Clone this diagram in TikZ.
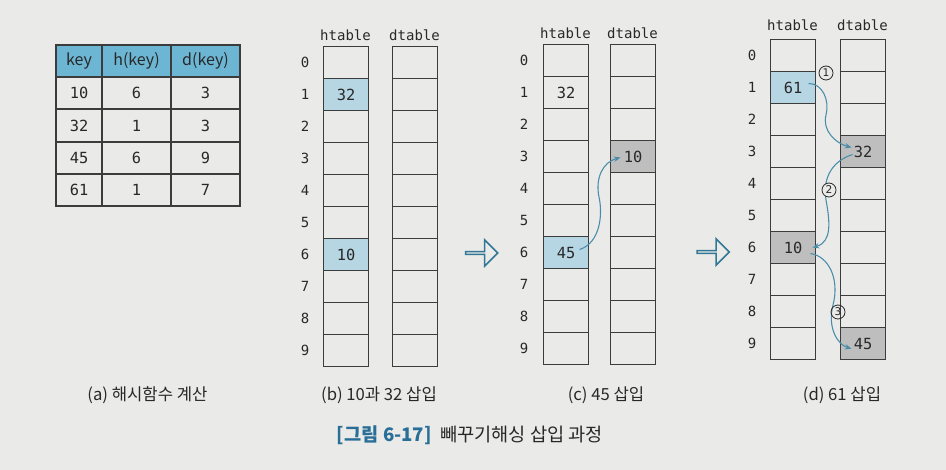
\documentclass[tikz,border=0pt]{standalone}
\usepackage{fontspec}
\setmainfont{Noto Sans CJK KR}
\newfontfamily\monof{DejaVu Sans Mono}
\newfontfamily\symf{DejaVu Sans}
\usetikzlibrary{arrows.meta,shapes.arrows,calc}
\definecolor{bgc}{RGB}{234,234,232}
\definecolor{linec}{RGB}{60,60,60}
\definecolor{hdr}{RGB}{108,182,212}
\definecolor{cb}{RGB}{182,214,228}
\definecolor{cg}{RGB}{190,190,190}
\definecolor{arrc}{RGB}{72,140,170}
\definecolor{blockc}{RGB}{50,120,150}
\definecolor{txt}{RGB}{40,40,40}
\definecolor{titc}{RGB}{40,110,150}
\tikzset{
  tcell/.style={draw=linec, line width=0.8pt, minimum height=24pt, inner sep=0pt,
    text=txt, font=\monof\fontsize{11.5}{13}\selectfont},
  hcell/.style={tcell, fill=hdr, font=\fontsize{12}{13}\selectfont},
  cell/.style={draw=linec, line width=0.8pt, minimum width=33.75pt, minimum height=24pt,
    inner sep=0pt, anchor=north west, text=txt, font=\monof\fontsize{11.5}{13}\selectfont},
  idx/.style={text=txt, font=\monof\fontsize{10.5}{12}\selectfont},
  thead/.style={text=txt, font=\monof\fontsize{10.5}{12}\selectfont},
  conn/.style={draw=arrc, line width=0.8pt, -{Stealth[length=5pt,width=4pt]}},
  circ/.style={circle, draw=txt, line width=0.6pt, minimum size=10.5pt, inner sep=0pt,
    text=txt, font=\symf\fontsize{8}{9}\selectfont},
  blockarrow/.style={single arrow, draw=blockc, line width=1.2pt, minimum height=24pt,
    minimum width=19.5pt, single arrow head extend=5.25pt, inner sep=0pt},
  capt/.style={text=txt, font=\fontsize{12.5}{14}\selectfont},
}
\begin{document}
\begin{tikzpicture}[x=0.75pt,y=-0.75pt]
\fill[bgc] (0,0) rectangle (946,470);
\useasboundingbox (0,0) rectangle (946,470);

% (a) table
\node[hcell, minimum width=34.5pt] (a0c0) at (79,61) {key};
\node[hcell, minimum width=51.75pt] (a0c1) at (136.5,61) {h(key)};
\node[hcell, minimum width=51.75pt] (a0c2) at (205.5,61) {d(key)};
\foreach \r/\y/\ka/\kb/\kc in {1/93/10/6/3,2/125.5/32/1/3,3/158/45/6/9,4/190/61/1/7}{
  \node[tcell, minimum width=34.5pt] (a\r c0) at (79,\y) {\ka};
  \node[tcell, minimum width=51.75pt] (a\r c1) at (136.5,\y) {\kb};
  \node[tcell, minimum width=51.75pt] (a\r c2) at (205.5,\y) {\kc};
}

% (b)
\node[thead] (bhl) at (345.5,35) {htable};
\node[thead] (bdl) at (414.5,35) {dtable};
\foreach \i/\f/\t in {0/none/,1/cb/32,2/none/,3/none/,4/none/,5/none/,6/cb/10,7/none/,8/none/,9/none/}{
  \node[cell, fill=\f] (bh\i) at (323,{46+32*\i}) {\t};
  \node[cell] (bd\i) at (392,{46+32*\i}) {};
  \node[idx] (bi\i) at (305,{62+32*\i}) {\i};
}

% (c)
\node[blockarrow] (arc) at (481,253) {};
\node[thead] (chl) at (565.5,33) {htable};
\node[thead] (cdl) at (632.5,33) {dtable};
\foreach \i/\f/\t/\g/\u in {0/none//none/,1/none/32/none/,2/none//none/,3/none//cg/10,4/none//none/,5/none//none/,6/cb/45/none/,7/none//none/,8/none//none/,9/none//none/}{
  \node[cell, fill=\f] (ch\i) at (543,{44+32*\i}) {\t};
  \node[cell, fill=\g] (cd\i) at (610,{44+32*\i}) {\u};
  \node[idx] (ci\i) at (524,{60+32*\i}) {\i};
}
\draw[conn] ($(ch6.center)+(13.5,-3)$) .. controls (600,243) and (603,215) .. (599,197)
  .. controls (595,178) and (603,162) .. ($(cd3.center)+(-12.5,1)$);

% (d)
\node[blockarrow] (ard) at (712.5,252) {};
\node[thead] (dhl) at (792.5,25) {htable};
\node[thead] (ddl) at (862.5,25) {dtable};
\foreach \i/\f/\t/\g/\u in {0/none//none/,1/cb/61/none/,2/none//none/,3/none//cg/32,4/none//none/,5/none//none/,6/cg/10/none/,7/none//none/,8/none//none/,9/none//cg/45}{
  \node[cell, fill=\f] (dh\i) at (770,{39+32*\i}) {\t};
  \node[cell, fill=\g] (dd\i) at (840,{39+32*\i}) {\u};
  \node[idx] (di\i) at (752,{55+32*\i}) {\i};
}
\draw[conn] ($(dh1.center)+(15.5,-4)$) .. controls (822,83) and (830,100) .. (826,115)
  .. controls (822,130) and (835,143) .. ($(dd3.center)+(-11.5,-4)$);
\draw[conn] ($(dd3.center)+(-10.5,3)$) .. controls (835,160) and (822,175) .. (826,200)
  .. controls (830,222) and (832,242) .. ($(dh6.center)+(19.5,0)$);
\draw[conn] ($(dh6.center)+(17.5,6)$) .. controls (828,256) and (840,278) .. (833,305)
  .. controls (827,328) and (838,345) .. ($(dd9.center)+(-11.5,5)$);
\node[circ] (n1) at (826,73) {1};
\node[circ, fill=bgc] (n2) at (829,190) {2};
\node[circ] (n3) at (838,312) {3};

% captions
\node[capt] (capa) at (147.5,395) {(a) 해시함수 계산};
\node[capt] (capb) at (379,395) {(b) 10과 32 삽입};
\node[capt] (capc) at (606,395) {(c) 45 삽입};
\node[capt] (capd) at (842,395) {(d) 61 삽입};
\node[text=txt, font=\fontsize{14}{16}\selectfont] (title) at (470,435)
  {\textcolor{titc}{\bfseries [그림 6-17]}\ \ 빼꾸기해싱 삽입 과정};
\end{tikzpicture}
\end{document}
